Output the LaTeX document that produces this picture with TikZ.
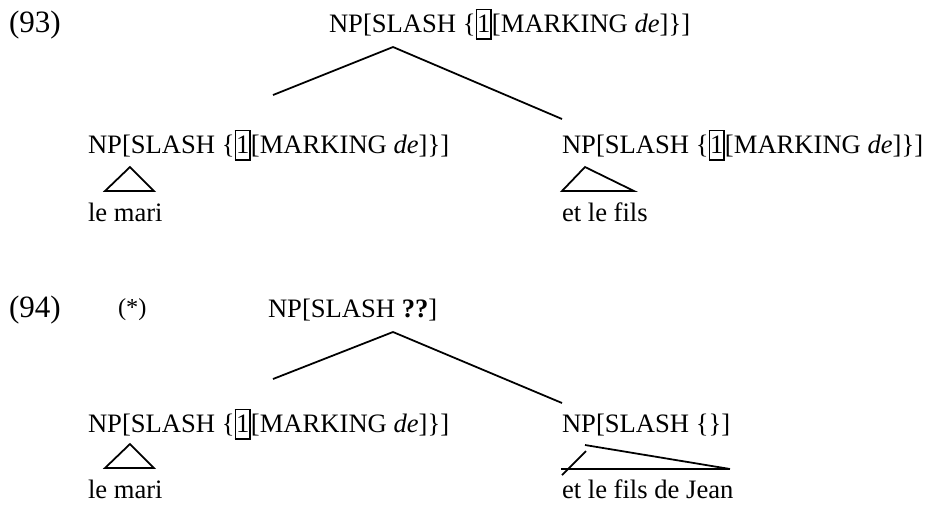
\documentclass[tikz,border=0pt]{standalone}
\usepackage{fontspec}
\setmainfont{Liberation Serif}
\newcommand{\bx}[1]{{\setlength{\fboxsep}{0pt}\setlength{\fboxrule}{0.7pt}\fbox{\rule[-2.7pt]{0pt}{12.6pt}#1}}}
\newcommand{\slashde}{NP[SLASH \{\bx{1}[MARKING \textit{de}]\}]}
\begin{document}
\begin{tikzpicture}[x=0.451pt,y=-0.451pt,
  every node/.style={inner sep=0pt, outer sep=0pt, anchor=base west, font=\fontsize{12}{14}\selectfont},
  exlabel/.style={font=\fontsize{14}{16}\selectfont},
  starlabel/.style={font=\fontsize{11}{13}\selectfont},
  ln/.style={line width=0.8pt}]
\useasboundingbox (0,0) rectangle (926,517);
% (93)
\node[exlabel] (ex93) at (9,32) {(93)};
\node (root93) at (329,32) {\slashde};
\coordinate (a93) at (393,47);
\coordinate (l93) at (273,95);
\coordinate (r93) at (562,119);
\draw[ln] (l93) -- (a93) -- (r93);
\node (d93l) at (88,153) {\slashde};
\node (d93r) at (562,153) {\slashde};
\draw[ln] (130,167) -- (105,191) -- (154,191) -- cycle;
\draw[ln] (585,167) -- (562,191) -- (634,191) -- cycle;
\node (leaf93l) at (88,221) {le mari};
\node (leaf93r) at (562,221) {et le fils};
% (94)
\node[exlabel] (ex94) at (9,317) {(94)};
\node[starlabel] (star94) at (118,315) {(*)};
\node (root94) at (268,317) {NP[SLASH \textbf{??}]};
\coordinate (a94) at (393,332);
\coordinate (l94) at (273,379);
\coordinate (r94) at (562,403);
\draw[ln] (l94) -- (a94) -- (r94);
\node (d94l) at (88,432) {\slashde};
\node (d94r) at (562,432) {NP[SLASH \{\}]};
\draw[ln] (130,444) -- (105,468) -- (154,468) -- cycle;
\draw[ln] (585,445) -- (730,469);
\draw[ln] (561,469) -- (730,469);
\draw[ln] (562,475) -- (586,451);
\node (leaf94l) at (88,498) {le mari};
\node (leaf94r) at (562,498) {et le fils de Jean};
\end{tikzpicture}
\end{document}
